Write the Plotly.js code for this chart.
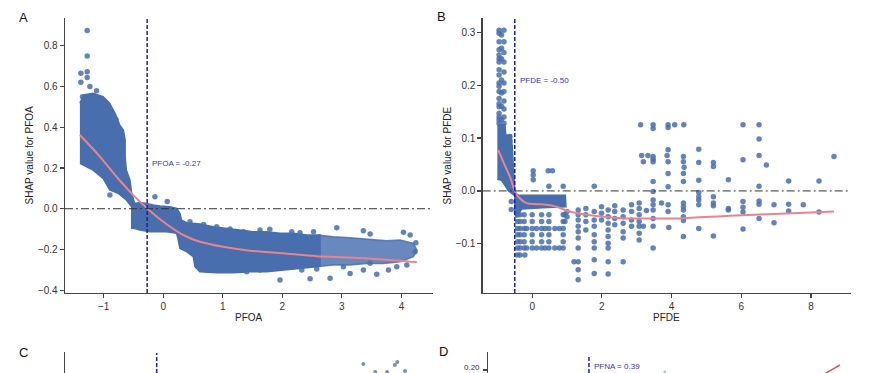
<!DOCTYPE html>
<html>
<head>
<meta charset="utf-8">
<script src="https://cdn.plot.ly/plotly-3.0.1.min.js"></script>
<style>html,body{margin:0;padding:0;background:#fff;}#chart{width:878px;height:373px;}</style>
</head>
<body>
<div id="chart"></div>
<script>
// ---------- Panel A (PFOA) ----------
const aTickX = [-1, 0, 1, 2, 3, 4];
const aTickY = [-0.4, -0.2, 0, 0.2, 0.4, 0.6, 0.8];
const aCut = -0.27;
// dense cloud outline (left + middle)
const aDenseX = [-1.40,-1.34,-1.18,-1.01,-0.90,-0.81,-0.73,-0.67,-0.64,-0.64,-0.62,-0.56,-0.53,-0.48,-0.392,-0.28,-0.168,-0.056,0.112,0.224,0.28,0.308,0.392,0.616,0.84,1.064,1.289,1.513,1.737,1.961,2.185,2.409,2.633,
  2.633,2.577,2.297,2.017,1.737,1.457,1.176,0.896,0.616,0.532,0.504,0.392,0.28,0.252,0.224,0.056,-0.224,-0.392,-0.476,-0.53,-0.53,-0.62,-0.76,-0.90,-1.01,-1.18,-1.40];
const aDenseY = [0.518,0.559,0.567,0.550,0.518,0.469,0.411,0.387,0.338,0.256,0.190,0.141,0.076,0.026,0.030,0.026,0.018,0.013,0.010,0.002,-0.023,-0.056,-0.069,-0.075,-0.088,-0.097,-0.105,-0.113,-0.113,-0.121,-0.121,-0.129,-0.129,
  -0.283,-0.285,-0.293,-0.301,-0.310,-0.310,-0.314,-0.314,-0.310,-0.285,-0.236,-0.211,-0.195,-0.154,-0.121,-0.113,-0.113,-0.105,-0.097,-0.096,0.010,0.043,0.076,0.092,0.149,0.190,0.223];
// sparser tail outline
const aTailX = [2.60,2.857,3.081,3.305,3.529,3.754,3.978,4.202,4.258,4.202,3.978,3.697,3.417,3.137,2.857,2.60];
const aTailY = [-0.129,-0.138,-0.141,-0.146,-0.154,-0.157,-0.154,-0.170,-0.203,-0.236,-0.260,-0.269,-0.269,-0.277,-0.277,-0.284];
// individual points
const aPtX = [-1.277,-1.277,-1.384,-1.277,-1.277,-1.384,-1.232,-1.356,-1.12,-0.795,-0.896,-0.14,0.067,
  0.449,0.677,0.897,1.121,1.35,1.625,1.79,2.158,2.297,2.524,2.914,3.361,3.474,4.034,4.146,4.242,4.23,
  1.961,2.466,2.802,3.138,3.586,3.782,4.09,1.401,1.625,2.326,2.578,3.025,3.361,3.474,3.922];
const aPtY = [0.875,0.750,0.665,0.673,0.645,0.621,0.600,0.550,0.580,0.439,0.067,0.059,0.036,
  -0.064,-0.077,-0.088,-0.100,-0.113,-0.105,-0.101,-0.113,-0.118,-0.113,-0.093,-0.108,-0.124,-0.116,-0.129,-0.167,-0.211,
  -0.350,-0.344,-0.342,-0.318,-0.322,-0.301,-0.277,-0.309,-0.301,-0.301,-0.296,-0.285,-0.301,-0.268,-0.285];
const aFitX = [-1.40,-1.064,-0.784,-0.504,-0.263,0,0.336,0.616,1.008,1.457,2.017,2.577,3.137,3.697,4.258];
const aFitY = [0.362,0.256,0.157,0.067,0.0,-0.064,-0.129,-0.162,-0.187,-0.206,-0.219,-0.233,-0.239,-0.249,-0.262];

// ---------- Panel B (PFDE) ----------
const bTickX = [0, 2, 4, 6, 8];
const bTickY = [-0.1, 0, 0.1, 0.2, 0.3];
const bCut = -0.50;
const bBlockX = [-1.00,-0.78,-0.76,-0.60,-0.56,-0.52,-0.50,-0.52,-0.68,-0.78,-0.88,-1.00];
const bBlockY = [0.125,0.125,0.106,0.106,0.070,0.020,0.000,-0.008,0.000,0.010,0.020,0.022];
const bBandX = [-0.52,-0.40,0.95,0.97,0.30,-0.30,-0.45,-0.52];
const bBandY = [-0.002,-0.008,-0.008,-0.030,-0.032,-0.034,-0.050,-0.040];
const bPtX = [
  -0.95,-0.95,-0.95,-0.95,-0.95,-0.95,-0.95,-0.95,-0.95,-0.95,-0.95,-0.95,-0.95,-0.95,-0.95,-0.95,-0.95,-0.95,-0.95,
  -0.88,-0.88,-0.88,-0.88,-0.88,-0.88,-0.88,
  -0.81,-0.81,-0.81,-0.81,-0.81,-0.81,-0.81,-0.81,-0.81,-0.81,-0.81,
  -0.64,-0.64,-0.64,-0.64,-0.60,-0.60,
  0.03,0.46,0.58,0.03,0.48,0.89,1.78,0.03,
  -0.42,-0.42,-0.42,-0.42,-0.42,-0.42,-0.42,
  -0.35,-0.35,-0.35,-0.35,-0.35,-0.35,-0.35,
  -0.23,-0.23,-0.23,-0.23,-0.23,-0.23,
  0.00,0.00,0.00,0.00,0.00,0.00,
  0.27,0.27,0.27,0.27,0.27,0.27,
  0.48,0.48,0.48,0.48,0.48,0.48,
  0.89,0.89,0.89,0.89,0.89,0.89,
  -0.16,0.125,0.37,0.65,0.78,-0.16,0.125,0.37,0.65,0.78,
  0.94,0.94,-0.21,
  1.00,1.00,
  1.32,1.32,1.32,1.32,1.32,1.32,1.32,1.32,1.32,1.32,1.20,
  1.54,1.54,1.54,1.54,
  1.78,1.78,1.78,1.78,1.78,1.78,1.78,1.78,
  1.99,1.99,1.99,
  2.18,2.18,2.18,2.18,2.18,2.18,2.18,2.18,2.18,
  2.37,2.37,2.37,2.37,
  2.61,2.61,2.61,2.61,2.61,2.61,
  2.85,2.85,2.85,2.85,
  3.07,3.07,3.07,3.07,3.07,3.07,3.07,3.19,
  3.11,3.47,3.47,3.90,3.90,4.09,4.35,
  3.14,3.32,3.47,3.47,3.47,3.87,3.90,4.34,4.34,3.19,4.36,
  3.90,3.47,3.47,3.47,3.47,3.47,3.47,3.47,3.47,
  3.90,3.90,3.90,3.90,3.92,3.71,3.28,
  4.34,4.34,4.34,4.34,4.34,4.34,4.34,4.34,
  4.78,4.78,4.78,4.78,4.78,4.78,4.78,4.78,
  5.20,5.20,5.20,5.20,5.20,5.20,
  5.63,5.63,5.63,
  6.05,6.05,6.05,6.05,6.05,6.05,
  6.51,6.51,6.51,6.51,6.51,6.51,6.51,
  6.72,6.94,6.94,7.36,7.36,7.36,7.78,8.23,8.23,8.66];
const bPtY = [
  0.304,0.298,0.282,0.267,0.257,0.250,0.244,0.229,0.219,0.204,0.198,0.188,0.175,0.165,0.159,0.147,0.140,0.134,0.128,
  0.295,0.270,0.250,0.210,0.185,0.160,0.135,
  0.304,0.282,0.262,0.244,0.225,0.204,0.188,0.170,0.155,0.140,0.128,
  0.103,0.095,0.085,0.075,-0.020,-0.035,
  0.038,0.038,0.038,0.021,0.009,0.009,0.009,0.030,
  -0.045,-0.058,-0.071,-0.083,-0.096,-0.108,-0.121,
  -0.045,-0.058,-0.071,-0.083,-0.096,-0.108,-0.121,
  -0.045,-0.058,-0.071,-0.083,-0.096,-0.108,
  -0.045,-0.058,-0.071,-0.083,-0.096,-0.108,
  -0.045,-0.058,-0.071,-0.083,-0.096,-0.108,
  -0.045,-0.058,-0.071,-0.083,-0.096,-0.108,
  -0.045,-0.058,-0.071,-0.083,-0.096,-0.108,
  -0.071,-0.071,-0.071,-0.071,-0.071,-0.108,-0.108,-0.108,-0.108,-0.108,
  -0.045,-0.058,-0.121,
  -0.039,-0.049,
  -0.036,-0.045,-0.055,-0.067,-0.077,-0.089,-0.108,-0.134,-0.149,-0.168,-0.134,
  -0.033,-0.045,-0.058,-0.074,
  -0.039,-0.055,-0.067,-0.083,-0.096,-0.108,-0.130,-0.156,
  -0.030,-0.042,-0.055,
  -0.036,-0.049,-0.061,-0.074,-0.086,-0.099,-0.108,-0.134,-0.157,
  -0.028,-0.039,-0.052,-0.064,
  -0.036,-0.049,-0.061,-0.077,-0.089,-0.134,
  -0.026,-0.039,-0.055,-0.067,
  -0.023,-0.033,-0.045,-0.058,-0.067,-0.080,-0.093,-0.067,
  0.125,0.125,0.118,0.125,0.120,0.125,0.125,
  0.067,0.067,0.065,0.055,0.060,0.067,0.055,0.065,0.055,0.055,0.045,
  0.078,0.018,-0.001,-0.017,-0.026,-0.036,-0.052,-0.067,-0.108,
  0.033,0.008,-0.026,-0.039,-0.069,-0.023,-0.037,
  0.033,0.018,-0.023,-0.030,-0.036,-0.049,-0.056,-0.086,
  0.079,0.054,0.020,-0.003,-0.011,-0.017,-0.026,-0.071,
  0.054,0.046,-0.011,-0.023,-0.028,-0.085,
  0.021,-0.033,-0.036,
  0.125,0.059,-0.020,-0.031,-0.040,-0.072,
  0.125,0.098,0.067,0.009,-0.019,-0.025,-0.052,
  0.049,-0.026,-0.060,0.019,-0.025,-0.038,-0.026,0.019,-0.040,0.065];
const bFitX = [-0.975,-0.81,-0.64,-0.50,-0.40,-0.16,0.12,0.41,0.70,1.08,1.56,2.04,2.61,3.28,4.24,5.67,7.11,8.66];
const bFitY = [0.0775,0.052,0.027,0.0,-0.011,-0.023,-0.025,-0.026,-0.030,-0.039,-0.045,-0.049,-0.052,-0.052,-0.052,-0.047,-0.043,-0.039];

// ---------- Panels C, D (cut off at the bottom) ----------
const cCut = -0.11;
const cPtX = [3.36, 3.56, 3.76, 3.89, 3.93, 4.06];
const cPtY = [0.09, 0.01, 0.01, 0.08, 0.11, 0.02];
const dCut = 0.39;
const dTickY = [0.20];
const dTickText = ['0.20'];
const dFitX = [4.60, 5.09];
const dFitY = [0.175, 0.2125];
const dPtX = [1.81];
const dPtY = [0.195];

// ---------- styling ----------
const FONT = 'Liberation Sans, Arial, sans-serif';
const BLUE = 'rgb(72,110,174)';
const PT = 'rgba(72,110,174,0.85)';
const FIT = '#E8848C';
const CUTC = '#1f1fa8';
const TXT = '#3434c4';

function poly(x, y, xa, ya, col) {
  return {x: x, y: y, xaxis: xa, yaxis: ya, mode: 'lines', fill: 'toself', fillcolor: col,
    line: {color: col, width: 1.5}, hoverinfo: 'skip', showlegend: false};
}
function pts(x, y, xa, ya, size, col) {
  return {x: x, y: y, xaxis: xa, yaxis: ya, mode: 'markers', type: 'scatter',
    marker: {size: size, color: col, line: {width: 0}}, showlegend: false};
}
function fit(x, y, xa, ya, w) {
  return {x: x, y: y, xaxis: xa, yaxis: ya, mode: 'lines', line: {color: FIT, width: w, shape: 'spline', smoothing: 0.8}, showlegend: false};
}

const traces = [
  poly(aDenseX, aDenseY, 'x', 'y', BLUE),
  poly(aTailX, aTailY, 'x', 'y', 'rgba(72,110,174,0.82)'),
  pts(aPtX, aPtY, 'x', 'y', 5.5, PT),
  fit(aFitX, aFitY, 'x', 'y', 2),
  poly(bBlockX, bBlockY, 'x2', 'y2', BLUE),
  poly(bBandX, bBandY, 'x2', 'y2', BLUE),
  pts(bPtX, bPtY, 'x2', 'y2', 5.5, PT),
  fit(bFitX, bFitY, 'x2', 'y2', 2),
  pts(cPtX, cPtY, 'x3', 'y3', 4, 'rgba(100,122,165,0.85)'),
  pts(dPtX, dPtY, 'x4', 'y4', 3, 'rgba(100,122,165,0.5)'),
  {x: dFitX, y: dFitY, xaxis: 'x4', yaxis: 'y4', mode: 'lines', line: {color: '#D9585C', width: 1.5}, showlegend: false}
];

const axBase = {showline: true, linecolor: '#444', linewidth: 1.3, ticks: 'outside', ticklen: 4,
  tickwidth: 1.2, tickcolor: '#444', showgrid: false, zeroline: false,
  tickfont: {family: FONT, size: 10, color: '#333'}, fixedrange: true};
const W = 878, H = 373;
const fx = p => p / W, fy = p => 1 - p / H;

const layout = {
  width: W, height: H, margin: {l: 0, r: 0, t: 0, b: 0},
  paper_bgcolor: '#fff', plot_bgcolor: 'rgba(0,0,0,0)', showlegend: false,
  font: {family: FONT},
  xaxis: Object.assign({}, axBase, {domain: [fx(65), fx(433)], range: [-1.65, 4.53], tickvals: aTickX, anchor: 'y'}),
  yaxis: Object.assign({}, axBase, {domain: [fy(293), fy(18)], range: [-0.414, 0.937], tickvals: aTickY, tickformat: '.1f', anchor: 'x'}),
  xaxis2: Object.assign({}, axBase, {domain: [fx(482.7), fx(850.7)], range: [-1.42, 9.14], tickvals: bTickX, anchor: 'y2'}),
  yaxis2: Object.assign({}, axBase, {domain: [fy(293), fy(18)], range: [-0.193, 0.327], tickvals: bTickY, tickformat: '.1f', anchor: 'x2'}),
  xaxis3: Object.assign({}, axBase, {domain: [fx(65), fx(433)], range: [-1.65, 4.53], visible: false, anchor: 'y3'}),
  yaxis3: Object.assign({}, axBase, {domain: [0, fy(352)], range: [0, 0.21], ticks: '', showticklabels: false, anchor: 'x3'}),
  xaxis4: Object.assign({}, axBase, {domain: [fx(488), fx(850.7)], range: [-1.5, 5.29], visible: false, anchor: 'y4'}),
  yaxis4: Object.assign({}, axBase, {domain: [0, fy(352)], range: [0.1925, 0.245], tickvals: dTickY, showticklabels: false, anchor: 'x4'}),
  shapes: [
    {type: 'line', xref: 'x domain', yref: 'y', x0: 0, x1: 1, y0: 0, y1: 0, line: {color: '#333', width: 1, dash: '8px,3px,2px,3px'}},
    {type: 'line', xref: 'x', yref: 'y domain', x0: aCut, x1: aCut, y0: 0, y1: 1, line: {color: CUTC, width: 1.5, dash: '4px,2px'}},
    {type: 'line', xref: 'x2 domain', yref: 'y2', x0: 0, x1: 1, y0: 0, y1: 0, line: {color: '#333', width: 1, dash: '8px,3px,2px,3px'}},
    {type: 'line', xref: 'x2', yref: 'y2 domain', x0: bCut, x1: bCut, y0: 0, y1: 1, line: {color: CUTC, width: 1.5, dash: '4px,2px'}},
    {type: 'line', xref: 'x3', yref: 'y3 domain', x0: cCut, x1: cCut, y0: 0, y1: 0.95, line: {color: CUTC, width: 1.5, dash: '4px,2px'}},
    {type: 'line', xref: 'x4', yref: 'y4 domain', x0: dCut, x1: dCut, y0: 0, y1: 0.85, line: {color: CUTC, width: 1.5, dash: '4px,2px'}}
  ],
  annotations: [
    {text: 'A', xref: 'paper', yref: 'paper', x: fx(23), y: fy(17), showarrow: false, xanchor: 'center', yanchor: 'middle', font: {family: FONT, size: 13, color: '#111'}},
    {text: 'B', xref: 'paper', yref: 'paper', x: fx(441), y: fy(16), showarrow: false, xanchor: 'center', yanchor: 'middle', font: {family: FONT, size: 13, color: '#111'}},
    {text: 'C', xref: 'paper', yref: 'paper', x: fx(23), y: fy(352), showarrow: false, xanchor: 'center', yanchor: 'middle', font: {family: FONT, size: 13, color: '#111'}},
    {text: 'D', xref: 'paper', yref: 'paper', x: fx(443), y: fy(351), showarrow: false, xanchor: 'center', yanchor: 'middle', font: {family: FONT, size: 13, color: '#111'}},
    {text: 'SHAP value for PFOA', xref: 'paper', yref: 'paper', x: fx(29), y: fy(155.5), textangle: -90, showarrow: false, xanchor: 'center', yanchor: 'middle', font: {family: FONT, size: 10, color: '#222'}},
    {text: 'SHAP value for PFDE', xref: 'paper', yref: 'paper', x: fx(447), y: fy(155.5), textangle: -90, showarrow: false, xanchor: 'center', yanchor: 'middle', font: {family: FONT, size: 10, color: '#222'}},
    {text: 'PFOA', xref: 'paper', yref: 'paper', x: fx(249), y: fy(317.5), showarrow: false, xanchor: 'center', yanchor: 'middle', font: {family: FONT, size: 10, color: '#222'}},
    {text: 'PFDE', xref: 'paper', yref: 'paper', x: fx(666.7), y: fy(317.5), showarrow: false, xanchor: 'center', yanchor: 'middle', font: {family: FONT, size: 10, color: '#222'}},
    {text: 'PFOA = -0.27', xref: 'x', yref: 'y', x: -0.22, y: 0.223, showarrow: false, xanchor: 'left', yanchor: 'middle', font: {family: FONT, size: 8, color: TXT}},
    {text: 'PFDE = -0.50', xref: 'x2', yref: 'y2', x: -0.42, y: 0.208, showarrow: false, xanchor: 'left', yanchor: 'middle', font: {family: FONT, size: 8, color: TXT}},
    {text: 'PFNA = 0.39', xref: 'x4', yref: 'y4', x: 0.44, y: 0.21, showarrow: false, xanchor: 'left', yanchor: 'middle', font: {family: FONT, size: 8, color: TXT}},
    {text: dTickText[0], xref: 'paper', yref: 'paper', x: fx(481), y: 0, showarrow: false, xanchor: 'right', yanchor: 'bottom', borderpad: 0, font: {family: FONT, size: 8, color: '#333'}}
  ]
};

Plotly.newPlot('chart', traces, layout, {staticPlot: true, displayModeBar: false});
</script>
</body>
</html>
